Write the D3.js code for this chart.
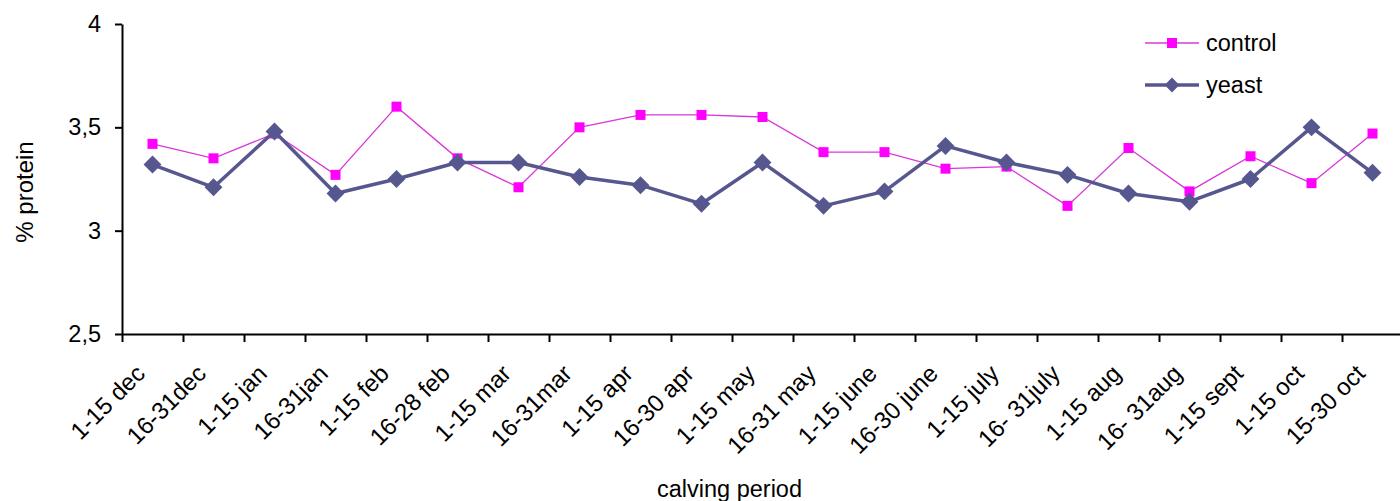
<!DOCTYPE html>
<html>
<head>
<meta charset="utf-8">
<script src="https://cdn.jsdelivr.net/npm/d3@7/dist/d3.min.js"></script>
<style>
  html, body { margin: 0; padding: 0; background: #fff; }
  svg { display: block; font-family: "Liberation Sans", Arial, sans-serif; }
</style>
</head>
<body>
<svg id="chart" width="1400" height="501"></svg>
<script>
// Calving periods along the x axis
const categories = [
  "1-15 dec", "16-31dec", "1-15 jan", "16-31jan", "1-15 feb", "16-28 feb",
  "1-15 mar", "16-31mar", "1-15 apr", "16-30 apr", "1-15 may", "16-31 may",
  "1-15 june", "16-30 june", "1-15 july", "16- 31july", "1-15 aug", "16- 31aug",
  "1-15 sept", "1-15 oct", "15-30 oct"
];

// Milk protein (%) per calving period
const controlValues = [
  3.42, 3.35, 3.47, 3.27, 3.60, 3.35, 3.21, 3.50, 3.56, 3.56, 3.55,
  3.38, 3.38, 3.30, 3.31, 3.12, 3.40, 3.19, 3.36, 3.23, 3.47
];
const yeastValues = [
  3.32, 3.21, 3.48, 3.18, 3.25, 3.33, 3.33, 3.26, 3.22, 3.13, 3.33,
  3.12, 3.19, 3.41, 3.33, 3.27, 3.18, 3.14, 3.25, 3.50, 3.28
];

const yTicks = [2.5, 3, 3.5, 4];

const seriesNames = ["control", "yeast"];
const seriesColors = ["#ff00ff", "#57578f"];

const svg = d3.select("#chart");

const plotLeft = 122, plotTop = 24, plotBottom = 334;
const step = 61;
const plotRight = plotLeft + step * categories.length;

const x = d3.scaleBand().domain(categories).range([plotLeft, plotRight]).padding(0);
const xEdges = d3.scaleLinear().domain([0, categories.length]).range([plotLeft, plotRight]);
const y = d3.scaleLinear().domain([2.5, 4]).range([plotBottom, plotTop]);

const fmt = v => d3.format("")(v).replace(".", ",");

// y axis
const yAxis = svg.append("g")
  .attr("transform", `translate(${plotLeft},0)`)
  .call(d3.axisLeft(y).tickValues(yTicks).tickSize(7).tickSizeOuter(0).tickPadding(14).tickFormat(fmt));
yAxis.select(".domain").attr("stroke", "#000").attr("stroke-width", 2);
yAxis.selectAll(".tick line").attr("stroke", "#000").attr("stroke-width", 2);
yAxis.selectAll(".tick text").attr("font-size", 23.5).attr("fill", "#000")
  .attr("font-family", "Liberation Sans, Arial, sans-serif");

// x axis: ticks on category boundaries
const xAxis = svg.append("g")
  .attr("transform", `translate(0,${plotBottom})`)
  .call(d3.axisBottom(xEdges).tickValues(d3.range(categories.length + 1)).tickSize(8).tickSizeOuter(0).tickFormat(""));
xAxis.select(".domain").attr("stroke", "#000").attr("stroke-width", 2);
xAxis.selectAll(".tick line").attr("stroke", "#000").attr("stroke-width", 2);

// rotated category labels
svg.append("g").selectAll("text")
  .data(categories)
  .join("text")
  .attr("transform", d => `translate(${x(d) + x.bandwidth() / 2 - 6},${plotBottom + 41}) rotate(-45)`)
  .attr("text-anchor", "end")
  .attr("font-size", 24)
  .attr("fill", "#000")
  .text(d => d);

// axis titles
svg.append("text")
  .attr("x", 657).attr("y", 497)
  .attr("font-size", 23.5)
  .attr("fill", "#000")
  .text("calving period");

svg.append("text")
  .attr("transform", `translate(33,192) rotate(-90)`)
  .attr("text-anchor", "middle")
  .attr("font-size", 24)
  .attr("fill", "#000")
  .text("% protein");

const cx = (d, i) => x(categories[i]) + x.bandwidth() / 2;
const line = d3.line().x((d, i) => cx(d, i)).y(d => y(d));

// control series
svg.append("path")
  .datum(controlValues)
  .attr("fill", "none")
  .attr("stroke", "#d838d8")
  .attr("stroke-width", 1.3)
  .attr("d", line);
svg.append("g").selectAll("rect")
  .data(controlValues)
  .join("rect")
  .attr("x", (d, i) => cx(d, i) - 5)
  .attr("y", d => y(d) - 5)
  .attr("width", 10).attr("height", 10)
  .attr("fill", seriesColors[0]);

// yeast series
const diamond = d3.symbol().type(d3.symbolSquare).size(160);
svg.append("path")
  .datum(yeastValues)
  .attr("fill", "none")
  .attr("stroke", seriesColors[1])
  .attr("stroke-width", 3.5)
  .attr("stroke-linejoin", "round")
  .attr("d", line);
svg.append("g").selectAll("path")
  .data(yeastValues)
  .join("path")
  .attr("transform", (d, i) => `translate(${cx(d, i)},${y(d)}) rotate(45)`)
  .attr("d", diamond)
  .attr("fill", seriesColors[1]);

// legend
const legend = svg.append("g");
const legendRows = [43, 85];
seriesNames.forEach((name, k) => {
  const ly = legendRows[k];
  legend.append("line")
    .attr("x1", 1145).attr("x2", 1199).attr("y1", ly).attr("y2", ly)
    .attr("stroke", k === 0 ? "#d838d8" : seriesColors[1])
    .attr("stroke-width", k === 0 ? 1.3 : 3.5);
  if (k === 0) {
    legend.append("rect").attr("x", 1167).attr("y", ly - 5).attr("width", 10).attr("height", 10)
      .attr("fill", seriesColors[0]);
  } else {
    legend.append("path").attr("transform", `translate(1172,${ly}) rotate(45)`)
      .attr("d", d3.symbol().type(d3.symbolSquare).size(110)).attr("fill", seriesColors[1]);
  }
  legend.append("text")
    .attr("x", 1206).attr("y", ly + 8)
    .attr("font-size", 23.5)
    .attr("fill", "#000")
    .text(name);
});
</script>
</body>
</html>
